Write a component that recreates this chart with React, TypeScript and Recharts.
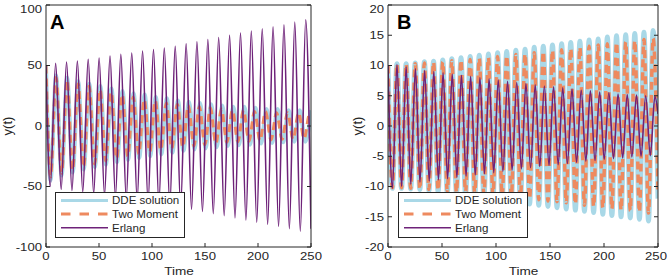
import { LineChart, Line, XAxis, YAxis, Legend } from 'recharts';

const FONT = '"Liberation Sans", Arial, Helvetica, sans-serif';
const INK = '#262626';
const DDE_COLOR = '#a9d8e7';
const TWO_COLOR = '#ee8a5f';
const ERLANG_COLOR = '#6e2279';

const timeTicks = [0, 50, 100, 150, 200, 250];
const yTicksA = [-100, -50, 0, 50, 100];
const yTicksB = [-20, -15, -10, -5, 0, 5, 10, 15, 20];

// panel A: turning points of each trace (time, value)
const erlangTimeA = [0, 4.0, 9.1, 14.3, 19.4, 24.5, 29.6, 34.7, 39.8, 45.0, 50.1, 55.2, 60.4, 65.5, 70.6, 75.7, 80.9, 86.0, 91.1, 96.3, 101.4, 106.5, 111.6, 116.8, 121.9, 127.0, 132.2, 137.3, 142.4, 147.6, 152.7, 157.8, 162.9, 168.1, 173.2, 178.3, 183.5, 188.6, 193.7, 198.8, 204.0, 209.1, 214.2, 219.4, 224.5, 229.6, 234.7, 239.9, 245.0, 250];
const erlangA = [50, -50, 51.8, -52.3, 52.9, -53.3, 53.7, -54.4, 55.1, -55.7, 56.2, -57.0, 57.9, -58.6, 59.3, -59.8, 60.3, -61.1, 62.0, -62.6, 63.1, -63.8, 64.5, -65.2, 65.8, -66.9, 67.9, -68.8, 69.6, -70.6, 71.5, -72.4, 73.2, -74.1, 74.9, -75.9, 76.8, -77.7, 78.5, -79.5, 80.4, -81.2, 82.0, -82.9, 83.7, -84.8, 85.9, -86.9, 87.8, -85];

const ddeTimeA = [0, 4.3, 9.5, 14.7, 19.95, 25.2, 30.4, 35.6, 40.85, 46.1, 51.3, 56.5, 61.75, 67.0, 72.2, 77.4, 82.65, 87.9, 93.1, 98.3, 103.55, 108.8, 114.0, 119.2, 124.45, 129.7, 134.9, 140.1, 145.35, 150.6, 155.8, 161.0, 166.25, 171.5, 176.7, 181.9, 187.15, 192.4, 197.6, 202.8, 208.05, 213.3, 218.5, 223.7, 228.95, 234.2, 239.4, 244.6, 250];
const ddeA = [50, -45, 42, -41, 40, -38.5, 37, -36, 35, -34, 33, -32, 31, -30, 29, -28, 27, -26.5, 26, -25, 24, -23.5, 23, -22, 21, -20.5, 20, -19.5, 19, -18.5, 18, -17.5, 17, -16.5, 16, -16, 16, -15.5, 15, -14.5, 14, -14, 14, -13.5, 13, -13, 13, -13, 13];

const twoTimeA = [0, 4.3, 9.5, 14.7, 19.9, 25.1, 30.3, 35.5, 40.7, 45.9, 51.1, 56.3, 61.5, 66.7, 71.9, 77.1, 82.3, 87.5, 92.7, 97.9, 103.1, 108.3, 113.5, 118.7, 123.9, 129.1, 134.3, 139.5, 144.7, 149.9, 155.1, 160.3, 165.5, 170.7, 175.9, 181.1, 186.3, 191.5, 196.7, 201.9, 207.1, 212.3, 217.5, 222.7, 227.9, 233.1, 238.3, 243.5, 248.7, 250];
const twoA = [50, -42, 40, -39, 38, -36.5, 35, -34, 33, -31.5, 30, -29, 28, -27, 26, -25, 24, -23, 22, -21.5, 21, -20, 19, -18.5, 18, -17.5, 17, -16.5, 16, -15.5, 15, -14.5, 14, -13.5, 13, -13, 13, -12.5, 12, -12, 12, -11.5, 11, -11, 11, -11, 11, -10.5, 10, 9.7];

// panel B
const erlangTimeB = [0, 4.1, 8.3, 12.6, 16.8, 21.1, 25.4, 29.6, 33.9, 38.2, 42.4, 46.7, 51.0, 55.2, 59.5, 63.8, 68.0, 72.3, 76.5, 80.8, 85.1, 89.3, 93.6, 97.9, 102.1, 106.4, 110.7, 114.9, 119.2, 123.5, 127.7, 132.0, 136.3, 140.5, 144.8, 149.1, 153.3, 157.6, 161.8, 166.1, 170.4, 174.6, 178.9, 183.2, 187.4, 191.7, 196.0, 200.2, 204.5, 208.8, 213.0, 217.3, 221.5, 225.8, 230.1, 234.3, 238.6, 242.9, 247.1, 250];
const erlangB = [10, -10.3, 10.2, -10.0, 9.8, -9.6, 9.5, -9.3, 9.2, -9.1, 9.0, -8.9, 8.8, -8.7, 8.6, -8.5, 8.4, -8.3, 8.2, -8.1, 8.0, -7.9, 7.8, -7.7, 7.6, -7.5, 7.4, -7.3, 7.2, -7.1, 7.0, -6.9, 6.8, -6.7, 6.6, -6.5, 6.5, -6.4, 6.3, -6.2, 6.1, -6.0, 5.9, -5.8, 5.8, -5.7, 5.6, -5.5, 5.5, -5.4, 5.3, -5.3, 5.2, -5.1, 5.1, -5.0, 5.0, -4.9, 4.9, 2];

const approxTimeB = [0, 4.1, 8.3, 12.5, 16.8, 21.0, 25.2, 29.5, 33.7, 37.9, 42.2, 46.4, 50.7, 54.9, 59.1, 63.4, 67.6, 71.8, 76.1, 80.3, 84.5, 88.8, 93.0, 97.2, 101.5, 105.7, 109.9, 114.2, 118.4, 122.6, 126.9, 131.1, 135.4, 139.6, 143.8, 148.1, 152.3, 156.5, 160.8, 165.0, 169.2, 173.5, 177.7, 181.9, 186.2, 190.4, 194.6, 198.9, 203.1, 207.3, 211.6, 215.8, 220.1, 224.3, 228.5, 232.8, 237.0, 241.2, 245.5, 250];
const ddeB = [10, -10.3, 10.3, -10.3, 10.3, -10.4, 10.4, -10.5, 10.6, -10.7, 10.7, -10.8, 10.9, -11.0, 11.1, -11.2, 11.3, -11.4, 11.5, -11.6, 11.7, -11.8, 11.9, -12.0, 12.1, -12.2, 12.3, -12.4, 12.5, -12.6, 12.7, -12.9, 13.0, -13.1, 13.2, -13.3, 13.4, -13.5, 13.6, -13.7, 13.8, -13.9, 14.0, -14.1, 14.2, -14.3, 14.4, -14.6, 14.7, -14.8, 14.9, -15.0, 15.1, -15.2, 15.3, -15.4, 15.5, -15.7, 15.8, -12];
const twoB = [10, -10.2, 10.2, -10.2, 10.2, -10.3, 10.3, -10.4, 10.4, -10.5, 10.5, -10.6, 10.6, -10.7, 10.8, -10.9, 10.9, -11.0, 11.0, -11.1, 11.2, -11.3, 11.3, -11.4, 11.5, -11.6, 11.6, -11.7, 11.8, -11.9, 11.9, -12.0, 12.1, -12.2, 12.3, -12.4, 12.5, -12.5, 12.6, -12.7, 12.8, -12.9, 13.0, -13.1, 13.2, -13.3, 13.4, -13.5, 13.6, -13.7, 13.8, -13.9, 13.9, -14.0, 14.1, -14.2, 14.3, -14.4, 14.5, -11];

const toRows = (ts: number[], ys: number[]) => ts.map((t, i) => ({ t, y: ys[i] }));

type Series = { name: string; data: { t: number; y: number }[]; color: string; width: number; dash?: string };

const seriesA: Series[] = [
  { name: 'DDE solution', data: toRows(ddeTimeA, ddeA), color: DDE_COLOR, width: 4 },
  { name: 'Two Moment', data: toRows(twoTimeA, twoA), color: TWO_COLOR, width: 3, dash: '8 5' },
  { name: 'Erlang', data: toRows(erlangTimeA, erlangA), color: ERLANG_COLOR, width: 1.6 },
];
const seriesB: Series[] = [
  { name: 'DDE solution', data: toRows(approxTimeB, ddeB), color: DDE_COLOR, width: 5 },
  { name: 'Two Moment', data: toRows(approxTimeB, twoB), color: TWO_COLOR, width: 3.5, dash: '8 5' },
  { name: 'Erlang', data: toRows(erlangTimeB, erlangB), color: ERLANG_COLOR, width: 1.6 },
];

const XTick = (props: any) => {
  const { x, y, payload } = props;
  return (
    <g transform={`translate(${x},${y + 13})`}>
      <text transform="scale(1.25,1)" textAnchor="middle" fontSize={10.5} fill={INK} fontFamily={FONT}>
        {payload.value}
      </text>
    </g>
  );
};

const YTick = (props: any) => {
  const { x, y, payload } = props;
  return (
    <g transform={`translate(${x - 4},${y + 3.8})`}>
      <text transform="scale(1.25,1)" textAnchor="end" fontSize={10.5} fill={INK} fontFamily={FONT}>
        {payload.value}
      </text>
    </g>
  );
};

const NoTick = () => <g />;

const LegendBox = ({ series }: { series: Series[] }) => (
  <svg width={130} height={46} style={{ display: 'block' }}>
    <rect x={0.5} y={0.5} width={129} height={45} fill="#fff" stroke={INK} strokeWidth={1} />
    {series.map((s, i) => {
      const cy = 8.5 + i * 13.6;
      return (
        <g key={s.name}>
          <line x1={6} x2={53} y1={cy} y2={cy} stroke={s.color} strokeWidth={s.dash ? 3 : s.width > 2 ? 3 : 1.5} strokeDasharray={s.dash ? '9.5 9' : undefined} />
          <g transform={`translate(57,${cy + 3.8})`}>
            <text transform="scale(1.1,1)" fontSize={10.5} fill={INK} fontFamily={FONT}>{s.name}</text>
          </g>
        </g>
      );
    })}
  </svg>
);

type PanelProps = {
  letter: string;
  letterX: number;
  chartLeft: number;
  yWidth: number;
  marginRight: number;
  yDomain: [number, number];
  yTicks: number[];
  series: Series[];
  legendLeft: number;
  ylabelX: number;
};

function Panel({ letter, letterX, chartLeft, yWidth, marginRight, yDomain, yTicks, series, legendLeft, ylabelX }: PanelProps) {
  const plotCenter = (yWidth + 334 - marginRight) / 2;
  return (
    <div style={{ position: 'absolute', left: chartLeft, top: 0 }}>
      <LineChart width={334} height={277} margin={{ top: 4, right: marginRight, bottom: 0, left: 0 }}>
        <XAxis
          xAxisId="b" dataKey="t" type="number" domain={[0, 250]} ticks={timeTicks} allowDataOverflow
          height={30} tickSize={-4} tickMargin={4} tick={XTick} stroke={INK}
          label={{
            content: () => (
              <g transform={`translate(${plotCenter},275)`}>
                <text transform="scale(1.18,1)" textAnchor="middle" fontSize={11.5} fill={INK} fontFamily={FONT}>Time</text>
              </g>
            ),
          }}
        />
        <XAxis
          xAxisId="top" orientation="top" type="number" domain={[0, 250]} ticks={timeTicks} allowDataOverflow
          height={1} tickSize={-4} tickMargin={0} tick={NoTick} stroke={INK}
        />
        <YAxis
          yAxisId="l" type="number" domain={yDomain} ticks={yTicks} allowDataOverflow
          width={yWidth} tickSize={-4} tickMargin={4} tick={YTick} stroke={INK}
          label={{
            content: () => (
              <g>
                <text transform={`translate(${ylabelX},126) rotate(-90)`} textAnchor="middle" dominantBaseline="central" fontSize={13} fill={INK} fontFamily={FONT}>y(t)</text>
                <text x={letterX} y={28.5} fontSize={20} fontWeight="bold" fill="#000" fontFamily={FONT}>{letter}</text>
              </g>
            ),
          }}
        />
        <YAxis
          yAxisId="r" orientation="right" type="number" domain={yDomain} ticks={yTicks} allowDataOverflow
          width={1} tickSize={-4} tickMargin={0} tick={NoTick} stroke={INK}
        />
        {series.map((s) => (
          <Line
            key={s.name} xAxisId="b" yAxisId="l" data={s.data} dataKey="y" name={s.name}
            type="monotone" stroke={s.color} strokeWidth={s.width} strokeDasharray={s.dash}
            dot={false} activeDot={false} isAnimationActive={false}
          />
        ))}
        <Legend
          layout="vertical" align="center" verticalAlign="middle"
          wrapperStyle={{ left: legendLeft, top: 191.5, width: 130, height: 46 }}
          content={() => <LegendBox series={series} />}
        />
      </LineChart>
    </div>
  );
}

export default function App() {
  return (
    <div style={{ position: 'absolute', left: 0, top: 0, width: 668, height: 277, background: '#fff', overflow: 'hidden' }}>
      <Panel letter="A" letterX={50} chartLeft={0} yWidth={46} marginRight={22} yDomain={[-100, 100]} yTicks={yTicksA} series={seriesA} legendLeft={55} ylabelX={7} />
      <Panel letter="B" letterX={63} chartLeft={334} yWidth={54} marginRight={9} yDomain={[-20, 20]} yTicks={yTicksB} series={seriesB} legendLeft={64} ylabelX={23} />
    </div>
  );
}
